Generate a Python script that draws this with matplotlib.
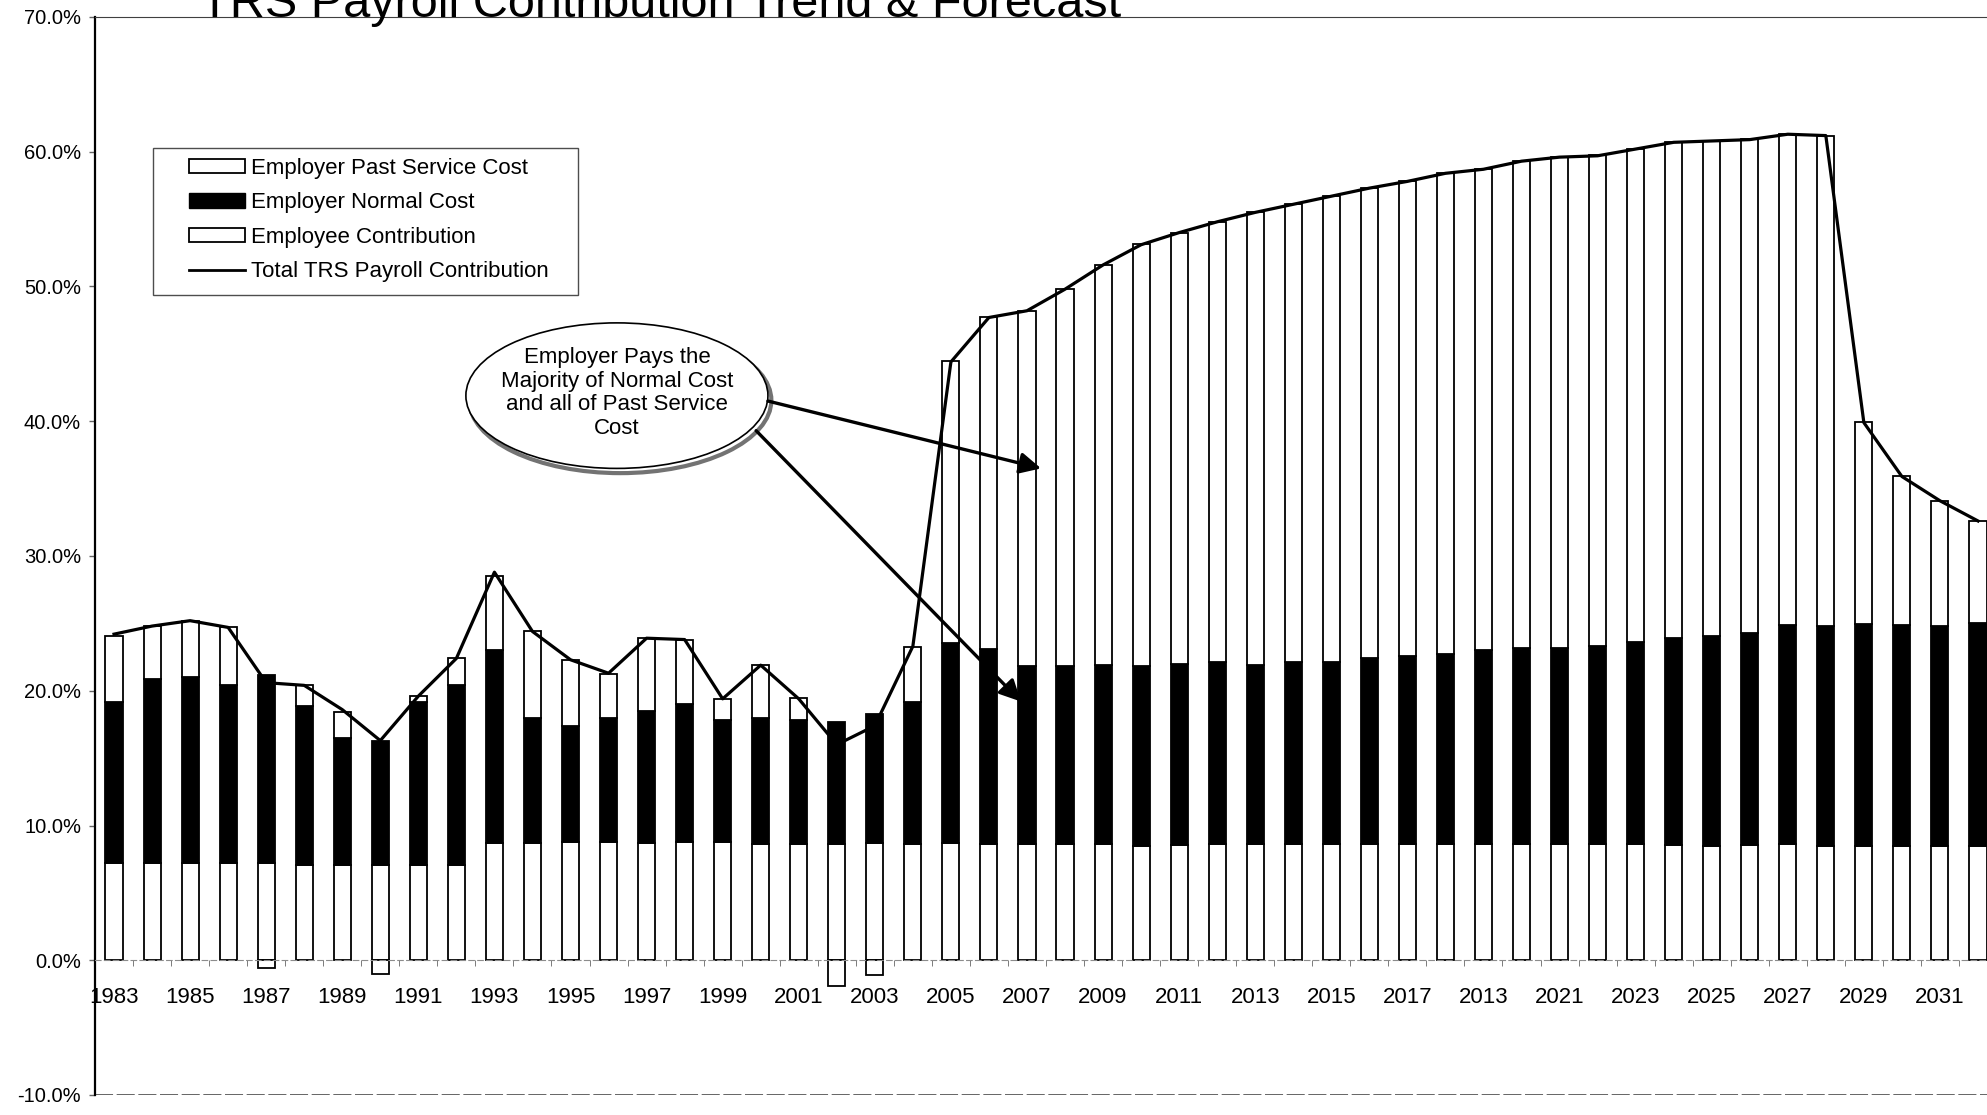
import numpy as np
import matplotlib
matplotlib.use('Agg')
from matplotlib import pyplot as plt
from matplotlib.patches import Patch, Ellipse, Rectangle
from matplotlib.lines import Line2D

plt.rcParams['font.family'] = ['Liberation Sans', 'DejaVu Sans']

years = list(range(1983, 2033))

# employee contribution, % of payroll
employee = [7.2, 7.2, 7.2, 7.2, 7.2, 7.1, 7.1, 7.1, 7.1, 7.1,
            8.7, 8.7, 8.75, 8.75, 8.7, 8.8, 8.8, 8.6, 8.6, 8.6,
            8.7, 8.65, 8.7, 8.6, 8.6, 8.6, 8.6, 8.5, 8.55, 8.6,
            8.6, 8.6, 8.6, 8.6, 8.65, 8.6, 8.65, 8.6, 8.6, 8.6,
            8.6, 8.55, 8.5, 8.55, 8.6, 8.5, 8.5, 8.5, 8.5, 8.5]
# employer normal cost
normal = [12.0, 13.7, 13.8, 13.2, 14.0, 11.8, 9.4, 9.2, 12.1, 13.3,
          14.3, 9.3, 8.6, 9.2, 9.8, 10.2, 9.0, 9.4, 9.25, 9.1,
          9.6, 10.5, 14.85, 14.5, 13.2, 13.2, 13.3, 13.35, 13.4, 13.5,
          13.3, 13.5, 13.5, 13.8, 13.9, 14.1, 14.4, 14.6, 14.6, 14.75,
          15.0, 15.4, 15.6, 15.7, 16.3, 16.3, 16.45, 16.4, 16.3, 16.5]
# employer past service cost
past = [4.9, 3.9, 4.2, 4.3, -0.6, 1.5, 1.9, -1.0, 0.4, 2.0,
        5.5, 6.4, 4.9, 3.3, 5.4, 4.8, 1.6, 3.9, 1.6, -1.9,
        -1.1, 4.1, 20.9, 24.6, 26.4, 28.0, 29.7, 31.3, 32.0, 32.7,
        33.6, 34.0, 34.6, 34.9, 35.3, 35.7, 35.7, 36.1, 36.4, 36.4,
        36.6, 36.8, 36.7, 36.7, 36.4, 36.4, 15.0, 11.0, 9.3, 7.6]
# total TRS payroll contribution
total = [24.2, 24.8, 25.2, 24.7, 20.6, 20.4, 18.6, 16.3, 19.6, 22.4,
         28.8, 24.4, 22.3, 21.3, 23.9, 23.8, 19.4, 21.9, 19.4, 16.0,
         17.4, 23.3, 44.4, 47.7, 48.2, 49.8, 51.6, 53.1, 54.0, 54.8,
         55.5, 56.1, 56.7, 57.3, 57.8, 58.4, 58.7, 59.3, 59.6, 59.7,
         60.2, 60.7, 60.8, 60.9, 61.3, 61.2, 39.9, 35.9, 34.1, 32.6]

xlabels = ['1983', '1985', '1987', '1989', '1991', '1993', '1995', '1997',
           '1999', '2001', '2003', '2005', '2007', '2009', '2011', '2013',
           '2015', '2017', '2013', '2021', '2023', '2025', '2027', '2029', '2031']
yticks = [-10, 0, 10, 20, 30, 40, 50, 60, 70]

title = 'TRS Payroll Contribution Trend & Forecast'
note = 'Employer Pays the\nMajority of Normal Cost\nand all of Past Service\nCost'

x = np.arange(len(years))
emp = np.array(employee)
nc = np.array(normal)
ps = np.array(past)
ps_bottom = np.where(ps >= 0, emp + nc, 0)

W, H = 1987, 1115
fig = plt.figure(figsize=(W / 100, H / 100), dpi=100)
ax = fig.add_axes([95 / W, 1 - 1095 / H, 51 * 38.04 / W, 1078 / H])

bw = 0.45
ax.bar(x, emp, bw, color='white', edgecolor='black', linewidth=1.3, zorder=2)
ax.bar(x, nc, bw, bottom=emp, color='black', edgecolor='black', linewidth=1.3, zorder=2)
ax.bar(x, ps, bw, bottom=ps_bottom, color='white', edgecolor='black', linewidth=1.3, zorder=2)
ax.plot(x, total, color='black', linewidth=2.3, zorder=3)

ax.set_xlim(-0.5, 50.5)
ax.set_ylim(-10, 70)

# axes look
ax.spines['right'].set_visible(False)
ax.spines['top'].set_color('0.25')
ax.spines['left'].set_linewidth(1.6)
ax.spines['bottom'].set_position(('data', 0))
ax.spines['bottom'].set_color('0.55')
ax.spines['bottom'].set_linestyle((0, (5, 3)))
ax.axhline(-10, color='0.35', linewidth=1.3, linestyle=(0, (10, 2)), zorder=1)

ax.set_xticks(x[::2])
ax.set_xticklabels(xlabels, fontsize=16)
ax.set_xticks(x[:-1] + 0.5, minor=True)
ax.tick_params(axis='x', which='major', length=0, pad=19)
ax.tick_params(axis='x', which='minor', length=4, color='0.4', direction='out')

ax.set_yticks(yticks)
ax.set_yticklabels(['%.1f%%' % v for v in yticks], fontsize=14.5)
ax.tick_params(axis='y', length=4, width=1, pad=6, color='0.4')

# callout
cx, cy = 13.22, 41.9
ax.add_patch(Ellipse((cx + 0.09, cy - 0.35), 7.94, 10.8, facecolor='none',
                     edgecolor='0.45', linewidth=3, zorder=4))
ax.add_patch(Ellipse((cx, cy), 7.94, 10.8, facecolor='white',
                     edgecolor='black', linewidth=1.2, zorder=5))
ax.text(cx, cy + 0.2, note, ha='center', va='center', fontsize=16,
        linespacing=1.18, zorder=6)
ax.annotate('', xy=(24.37, 36.5), xytext=(17.19, 41.5),
            arrowprops=dict(arrowstyle='-|>', color='black', lw=2.4,
                            mutation_scale=32, shrinkA=0, shrinkB=0), zorder=6)
ax.annotate('', xy=(23.84, 19.2), xytext=(16.88, 39.3),
            arrowprops=dict(arrowstyle='-|>', color='black', lw=2.4,
                            mutation_scale=32, shrinkA=0, shrinkB=0), zorder=6)

# legend box drawn by hand (wider side margins than legend's own frame)
fig.add_artist(Rectangle((153 / W, 1 - 295 / H), 425 / W, 147 / H,
                         transform=fig.transFigure, facecolor='white',
                         edgecolor='0.3', linewidth=1.0, zorder=5))
handles = [Patch(facecolor='white', edgecolor='black', linewidth=1.3),
           Patch(facecolor='black', edgecolor='black'),
           Patch(facecolor='white', edgecolor='black', linewidth=1.3),
           Line2D([], [], color='black', linewidth=2)]
labels = ['Employer Past Service Cost', 'Employer Normal Cost',
          'Employee Contribution', 'Total TRS Payroll Contribution']
leg = fig.legend(handles, labels, loc='upper left',
                 bbox_to_anchor=(189 / W, 1 - 158 / H), fontsize=16,
                 frameon=False, handlelength=2.5, handleheight=0.6,
                 handletextpad=0.3, labelspacing=0.6, borderpad=0,
                 borderaxespad=0)
leg.set_zorder(6)

fig.text(200 / W, 1 - 17 / H, title, fontsize=35, va='baseline', ha='left')

fig.savefig('out.png', dpi=100)
